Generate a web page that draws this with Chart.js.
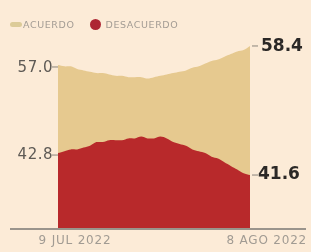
<!DOCTYPE html>
<html>
<head>
<meta charset="utf-8">
<script src="https://cdn.jsdelivr.net/npm/chart.js@4/dist/chart.umd.min.js"></script>
<style>
  html, body { margin: 0; padding: 0; background: #fcebd7; }
  #wrap { position: relative; width: 311px; height: 252px; overflow: hidden; }
  #legend { position: absolute; left: 10px; top: 18px; font-family: "DejaVu Sans", sans-serif; font-size: 9.5px; letter-spacing: 0.6px; color: #a39c94; }
  #legend span { display: inline-block; vertical-align: middle; }
  .sw1 { width: 12px; height: 5px; border-radius: 3px; background: #dccb98; margin-right: 1px; }
  .sw2 { width: 11px; height: 11px; border-radius: 50%; background: #ad2633; margin: 0 5px 0 15px; }
</style>
</head>
<body>
<div id="wrap">
  <canvas id="chart" width="311" height="252"></canvas>
  <div id="legend"><span class="sw1"></span><span>ACUERDO</span><span class="sw2"></span><span>DESACUERDO</span></div>
</div>
<script>
// daily, 9 jul 2022 - 8 ago 2022
let days = [];
for (let i = 0; i < 31; i++) days.push(i);
let dateLabels = ["9 JUL 2022", "8 AGO 2022"];

let acuerdo = [57.0, 56.9, 56.9, 56.7, 56.6, 56.5, 56.4, 56.4, 56.3, 56.2, 56.2, 56.1, 56.1, 56.1, 56.0, 56.1,
    56.2, 56.3, 56.4, 56.5, 56.6, 56.8, 56.9, 57.1, 57.3, 57.4, 57.6, 57.8, 58.0, 58.1, 58.4];
let desacuerdo = [42.8, 42.9, 43.0, 43.0, 43.1, 43.2, 43.4, 43.4, 43.5, 43.5, 43.5, 43.6, 43.6, 43.7, 43.6, 43.6,
    43.7, 43.6, 43.4, 43.3, 43.2, 43.0, 42.9, 42.8, 42.6, 42.5, 42.3, 42.1, 41.9, 41.7, 41.6];

let chartEl = document.getElementById("chart");

// end labels + axis line
const labelsPlugin = {
    id: 'endLabels',
    afterDraw(c) {
        const ctx = c.ctx;
        const xs = c.scales.x;
        const ya = c.scales.y;
        const yd = c.scales.y2;
        const x0 = xs.getPixelForValue(0);
        const x1 = xs.getPixelForValue(days.length - 1);
        const last = days.length - 1;
        ctx.save();

        // axis line
        ctx.strokeStyle = "#9a948c";
        ctx.lineWidth = 2;
        ctx.beginPath();
        ctx.moveTo(10, c.chartArea.bottom + 1);
        ctx.lineTo(306, c.chartArea.bottom + 1);
        ctx.stroke();

        // small ticks
        ctx.lineWidth = 1;
        ctx.strokeStyle = "#8a847c";
        [[ya, acuerdo], [yd, desacuerdo]].forEach(([s, d]) => {
            let ys = s.getPixelForValue(d[0]);
            ctx.beginPath(); ctx.moveTo(x0 - 6, ys + 2); ctx.lineTo(x0, ys + 2); ctx.stroke();
            let ye = s.getPixelForValue(d[last]);
            ctx.beginPath(); ctx.moveTo(x1 + 2, ye); ctx.lineTo(x1 + 8, ye); ctx.stroke();
        });

        ctx.textBaseline = "middle";
        ctx.font = "15px 'DejaVu Sans', sans-serif";
        ctx.letterSpacing = "0.5px";
        ctx.fillStyle = "#5e5a55";
        ctx.textAlign = "right";
        ctx.fillText(acuerdo[0].toFixed(1), x0 - 5, ya.getPixelForValue(acuerdo[0]) + 3);
        ctx.fillText(desacuerdo[0].toFixed(1), x0 - 5, yd.getPixelForValue(desacuerdo[0]) + 2);

        ctx.font = "bold 17px 'DejaVu Sans', sans-serif";
        ctx.letterSpacing = "0px";
        ctx.fillStyle = "#2b2826";
        ctx.textAlign = "left";
        ctx.fillText(acuerdo[last].toFixed(1), x1 + 11, ya.getPixelForValue(acuerdo[last]) + 1);
        ctx.fillText(desacuerdo[last].toFixed(1), x1 + 8, yd.getPixelForValue(desacuerdo[last]));

        ctx.font = "12px 'DejaVu Sans', sans-serif";
        ctx.letterSpacing = "0.8px";
        ctx.fillStyle = "#a19b93";
        ctx.textAlign = "center";
        ctx.fillText(dateLabels[0], x0 + 17, c.chartArea.bottom + 13);
        ctx.textAlign = "right";
        ctx.fillText(dateLabels[1], 307, c.chartArea.bottom + 13);
        ctx.restore();
    }
};

let chart = new Chart(chartEl, {
    type: 'line',
    data: {
        labels: days,
        datasets: [{
            label: 'DESACUERDO',
            data: desacuerdo,
            yAxisID: 'y2',
            backgroundColor: '#b8292b',
            borderWidth: 0,
            pointRadius: 0,
            fill: 'start',
            tension: 0.3
        }, {
            label: 'ACUERDO',
            data: acuerdo,
            yAxisID: 'y',
            backgroundColor: '#e6c98f',
            borderWidth: 0,
            pointRadius: 0,
            fill: 'start',
            tension: 0.3
        }]
    },
    options: {
        responsive: false,
        devicePixelRatio: 1,
        animation: false,
        layout: { padding: { left: 58, right: 61, top: 40, bottom: 24 } },
        plugins: { legend: { display: false }, tooltip: { enabled: false } },
        scales: {
            x: { display: false, offset: false },
            y: { display: false, min: 44.99, max: 58.84 },
            y2: { display: false, min: 38.71, max: 48.97 }
        }
    },
    plugins: [labelsPlugin]
});
</script>
</body>
</html>
